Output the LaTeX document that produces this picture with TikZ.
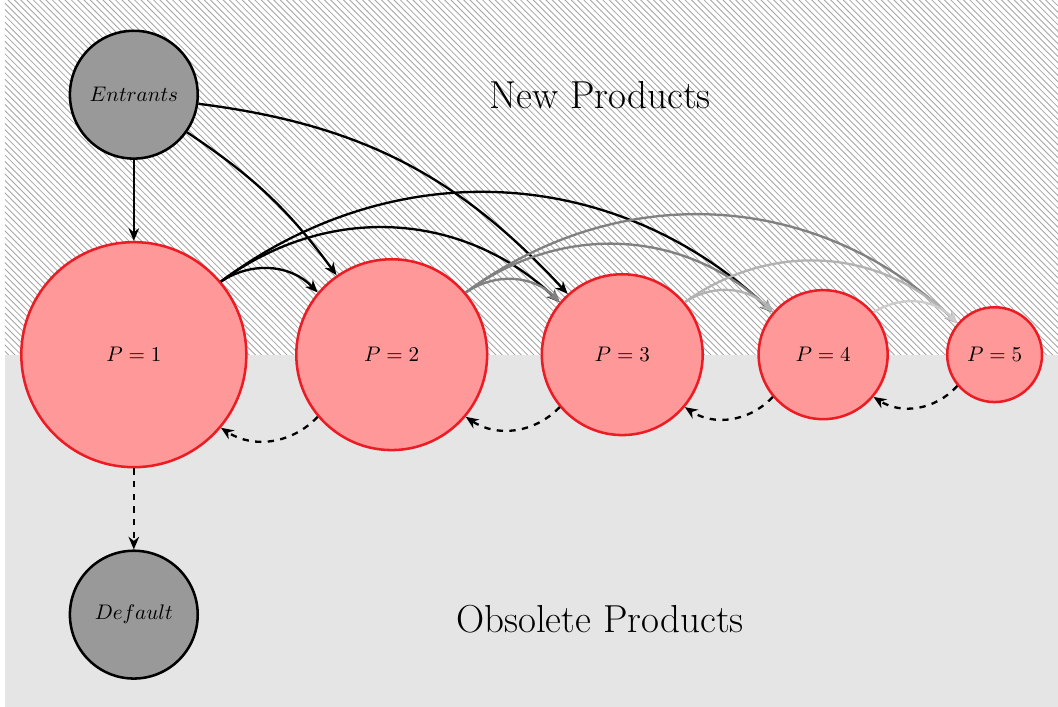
\documentclass[tikz,border=0pt]{standalone}
\usetikzlibrary{%
    arrows.meta,
    patterns,
    positioning
}
\definecolor{productred}{RGB}{237,28,36}
\tikzset{flowarrow/.style = {line width=1.1pt, -{Stealth[length=6pt,width=5pt]}}}

\begin{document}
\begin{tikzpicture}[
    agent/.style = {circle, draw, very thick, fill=black!40, minimum size=2.13cm, inner sep=0pt},
    product/.style = {circle, draw=productred, very thick, fill=red!40, inner sep=0pt},
    region/.style = {font=\fontsize{18.5}{22}\selectfont}]
    \useasboundingbox (0,0) rectangle (17.63,11.78);
    \fill[black!10] (0.08,0) rectangle (17.63,5.87);
    \fill[pattern=north west lines, pattern color=black!35] (0.08,5.87) rectangle (17.63,11.78);

    \node[product, minimum size=3.75cm] (P1) at (2.23,5.87) {$P=1$};
    \node[product, minimum size=3.18cm] (P2) [right=0.79cm of P1] {$P=2$};
    \node[product, minimum size=2.68cm] (P3) [right=0.87cm of P2] {$P=3$};
    \node[product, minimum size=2.15cm] (P4) [right=0.89cm of P3] {$P=4$};
    \node[product, minimum size=1.58cm] (P5) [right=0.95cm of P4] {$P=5$};

    \node[agent] (entrants) [above=1.35cm of P1] {$Entrants$};
    \node[agent] (default) [below=1.35cm of P1] {$Default$};

    \node[region] (new) at (10,10.2) {New Products};
    \node[region] (obsolete) at (10,1.47) {Obsolete Products};

    % entry
    \draw[flowarrow] (entrants) -- (P1);
    \draw[flowarrow] (entrants) to[bend left=10] (P2);
    \draw[flowarrow] (entrants) to[bend left=20] (P3);

    % new products push older ones
    \draw[flowarrow] (P1) to[bend left=40] (P2);
    \draw[flowarrow] (P1) to[bend left=40] (P3);
    \draw[flowarrow] (P1) to[bend left=40] (P4);
    \draw[flowarrow, black!50] (P2) to[bend left=40] (P3);
    \draw[flowarrow, black!50] (P2) to[bend left=40] (P4);
    \draw[flowarrow, black!50] (P2) to[bend left=40] (P5);
    \draw[flowarrow, black!30] (P3) to[bend left=40] (P4);
    \draw[flowarrow, black!30] (P3) to[bend left=40] (P5);
    \draw[flowarrow, black!20] (P4) to[bend left=40] (P5);

    % obsolescence
    \draw[flowarrow, dashed] (P5) to[bend left=40] (P4);
    \draw[flowarrow, dashed] (P4) to[bend left=40] (P3);
    \draw[flowarrow, dashed] (P3) to[bend left=40] (P2);
    \draw[flowarrow, dashed] (P2) to[bend left=40] (P1);
    \draw[flowarrow, dashed] (P1) -- (default);
\end{tikzpicture}
\end{document}
